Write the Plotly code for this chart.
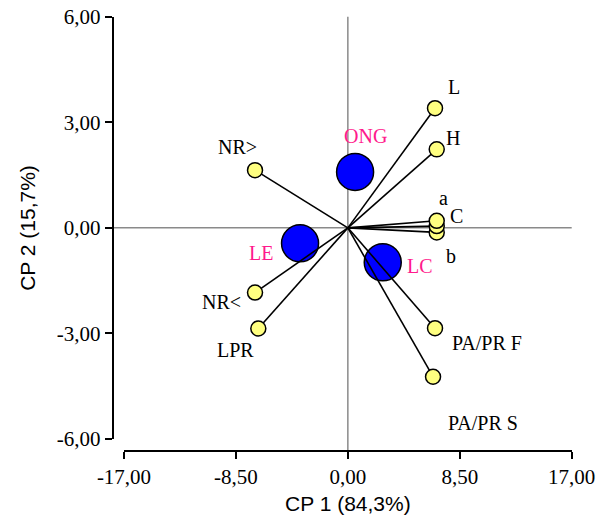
import plotly.graph_objects as go

# Variable loadings (yellow points, drawn as vectors from the origin)
var_names = ["L", "H", "b", "C", "a", "NR>", "NR<", "LPR", "PA/PR F", "PA/PR S"]
var_cp1 = [6.62, 6.75, 6.75, 6.75, 6.75, -7.05, -7.05, -6.80, 6.62, 6.47]
var_cp2 = [3.40, 2.23, -0.13, 0.05, 0.20, 1.64, -1.84, -2.86, -2.85, -4.23]

# Group scores (blue points)
grp_names = ["ONG", "LE", "LC"]
grp_cp1 = [0.55, -3.63, 2.65]
grp_cp2 = [1.59, -0.44, -0.98]

# Axis ticks
x_ticks = [-17, -8.5, 0, 8.5, 17]
x_tick_text = ["-17,00", "-8,50", "0,00", "8,50", "17,00"]
y_ticks = [-6, -3, 0, 3, 6]
y_tick_text = ["-6,00", "-3,00", "0,00", "3,00", "6,00"]

x_title = "CP 1 (84,3%)"
y_title = "CP 2 (15,7%)"

# Label placement (pixel offsets from each point: right, up)
var_label_offset = {
    "L": (19, 21), "H": (16, 11), "a": (7, 23), "C": (20, 10), "b": (14, -24),
    "NR>": (-18, 23), "NR<": (-34, -9), "LPR": (-23, -21),
    "PA/PR F": (52, -15), "PA/PR S": (50, -46),
}
grp_label_offset = {"ONG": (10, 36), "LE": (-39, -10), "LC": (37, -4)}

W, H = 596, 518
# plot frame in pixels
x_left_px, x_right_px = 124.0, 571.7
y_top_px, y_bottom_px = 16.7, 439.0
yaxis_px = 112.7
xaxis_px = 450.5

x_dom = [x_left_px / W, x_right_px / W]
y_dom = [(H - y_bottom_px) / H, (H - y_top_px) / H]
yaxis_pos = yaxis_px / W
xaxis_pos = (H - xaxis_px) / H

PINK = "#ff1a8c"
YELLOW = "#ffff80"
BLUE = "#0000ff"
GRID_GRAY = "#8a8a8a"

fig = go.Figure()

# blue group circles (under the vectors)
fig.add_trace(go.Scatter(
    x=grp_cp1, y=grp_cp2, mode="markers",
    marker=dict(size=37, color=BLUE, line=dict(color="black", width=1.5)),
    hoverinfo="skip", showlegend=False,
))

# vectors from the origin
vx, vy = [], []
for x, y in zip(var_cp1, var_cp2):
    vx += [0, x, None]
    vy += [0, y, None]
fig.add_trace(go.Scatter(
    x=vx, y=vy, mode="lines",
    line=dict(color="black", width=1.6),
    hoverinfo="skip", showlegend=False,
))

# yellow variable circles
fig.add_trace(go.Scatter(
    x=var_cp1, y=var_cp2, mode="markers",
    marker=dict(size=15, color=YELLOW, line=dict(color="black", width=1.5)),
    hoverinfo="skip", showlegend=False,
))

annotations = []
for n, x, y in zip(var_names, var_cp1, var_cp2):
    dx, dy = var_label_offset[n]
    annotations.append(dict(
        x=x, y=y, xref="x", yref="y", text=n, showarrow=False,
        xshift=dx, yshift=dy,
        font=dict(family="Liberation Serif", size=20, color="black"),
    ))
for n, x, y in zip(grp_names, grp_cp1, grp_cp2):
    dx, dy = grp_label_offset[n]
    annotations.append(dict(
        x=x, y=y, xref="x", yref="y", text=n, showarrow=False,
        xshift=dx, yshift=dy,
        font=dict(family="Liberation Serif", size=20, color=PINK),
    ))

# axis titles
annotations.append(dict(
    x=(x_dom[0] + x_dom[1]) / 2, y=(H - 503) / H, xref="paper", yref="paper",
    xanchor="center", yanchor="middle",
    text=x_title, showarrow=False,
    font=dict(family="Liberation Sans", size=21, color="black"),
))
annotations.append(dict(
    x=28 / W, y=(y_dom[0] + y_dom[1]) / 2, xref="paper", yref="paper",
    xanchor="center", yanchor="middle",
    text=y_title, showarrow=False, textangle=-90,
    font=dict(family="Liberation Sans", size=21, color="black"),
))

# reference lines through the origin, reaching the detached axes
shapes = [
    dict(type="line", xref="paper", yref="y", x0=yaxis_pos, x1=x_dom[1], y0=0, y1=0,
         line=dict(color=GRID_GRAY, width=1.5), layer="below"),
    dict(type="line", xref="x", yref="paper", x0=0, x1=0, y0=xaxis_pos, y1=y_dom[1],
         line=dict(color=GRID_GRAY, width=1.5), layer="below"),
]

tick_font = dict(family="Liberation Serif", size=21, color="black")

fig.update_layout(
    width=W, height=H,
    margin=dict(l=0, r=0, t=0, b=0),
    paper_bgcolor="white", plot_bgcolor="white",
    showlegend=False,
    annotations=annotations,
    shapes=shapes,
    xaxis=dict(
        domain=x_dom, range=[-17, 17], anchor="free", position=xaxis_pos,
        tickvals=x_ticks, ticktext=x_tick_text, tickfont=tick_font,
        showline=True, linecolor="black", linewidth=2,
        ticks="outside", ticklen=7, tickwidth=2, tickcolor="black",
        showgrid=False, zeroline=False, automargin=False,
    ),
    yaxis=dict(
        domain=y_dom, range=[-6, 6], anchor="free", position=yaxis_pos,
        tickvals=y_ticks, ticktext=y_tick_text, tickfont=tick_font,
        showline=True, linecolor="black", linewidth=2,
        ticks="outside", ticklen=7, tickwidth=2, tickcolor="black",
        showgrid=False, zeroline=False, automargin=False,
    ),
)

fig.write_html("out.html")
